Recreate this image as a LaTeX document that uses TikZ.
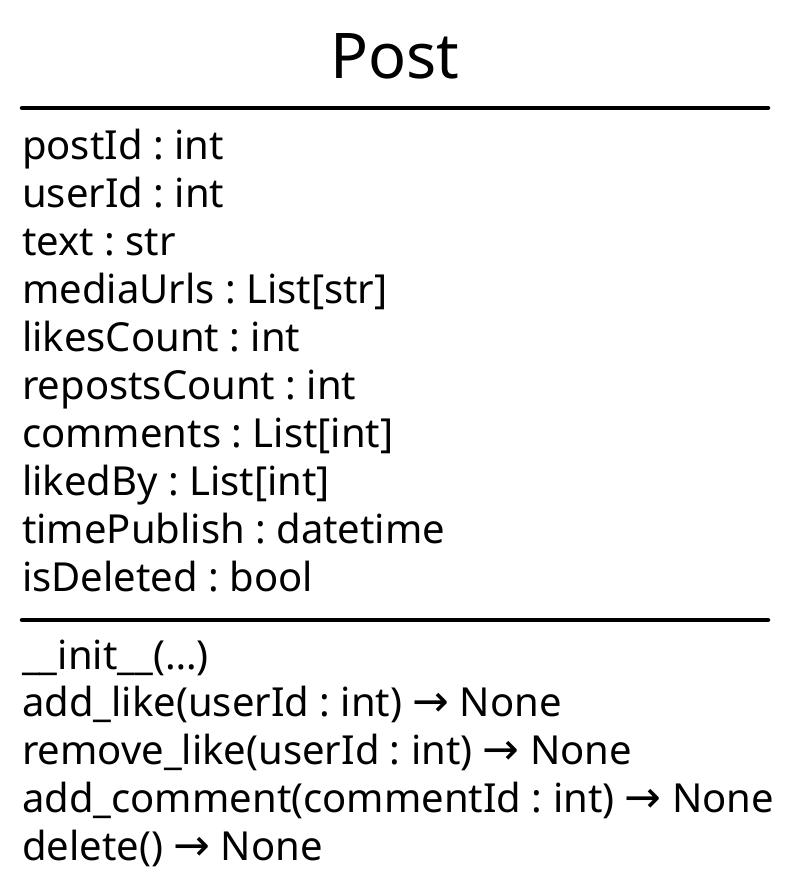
\documentclass[tikz,border=0pt]{standalone}
\usepackage{fontspec}
\setmainfont{Noto Sans}
\newfontfamily\arrowfont{DejaVu Sans}
\newcommand{\ret}{{\arrowfont\fontsize{44}{48}\selectfont\char"2192}}
\newcommand{\ellip}{\char"2026}
\frenchspacing

\tikzset{
  member/.style={anchor=base west, inner sep=0pt, font=\fontsize{40}{48}\selectfont},
  title/.style={anchor=base, inner sep=0pt, font=\fontsize{63}{75}\selectfont},
  rule/.style={line width=4.5pt, line cap=round}
}

\begin{document}
\begin{tikzpicture}[x=1pt,y=-1pt]
                \useasboundingbox (0,0) rectangle (789,892);
                % class name and the two separators
                \node[title] (name) at (395,78) {Post};
                \coordinate (r1a) at (22,108);
                \coordinate (r1b) at (768,108);
                \coordinate (r2a) at (22,620);
                \coordinate (r2b) at (768,620);
                \draw[rule] (r1a)--(r1b);
                \draw[rule] (r2a)--(r2b);
                % attributes
                \foreach \txt [count=\i] in {{postId : int},{userId : int},{text : str},
                    {mediaUrls : List[str]},{likesCount : int},{repostsCount : int},
                    {comments : List[int]},{likedBy : List[int]},{timePublish : datetime},
                    {isDeleted : bool}}
                    \node[member] (attr\i) at (22,{159+48*(\i-1)}) {\txt};
                % methods
                \foreach \txt [count=\i] in {{\_\_init\_\_(\ellip)},
                    {add\_like(userId : int) \ret{} None},
                    {remove\_like(userId : int) \ret{} None},
                    {add\_comment(commentId : int) \ret{} None},
                    {delete() \ret{} None}}
                    \node[member] (meth\i) at (22,{669+47.75*(\i-1)}) {\txt};
            \end{tikzpicture}
\end{document}
